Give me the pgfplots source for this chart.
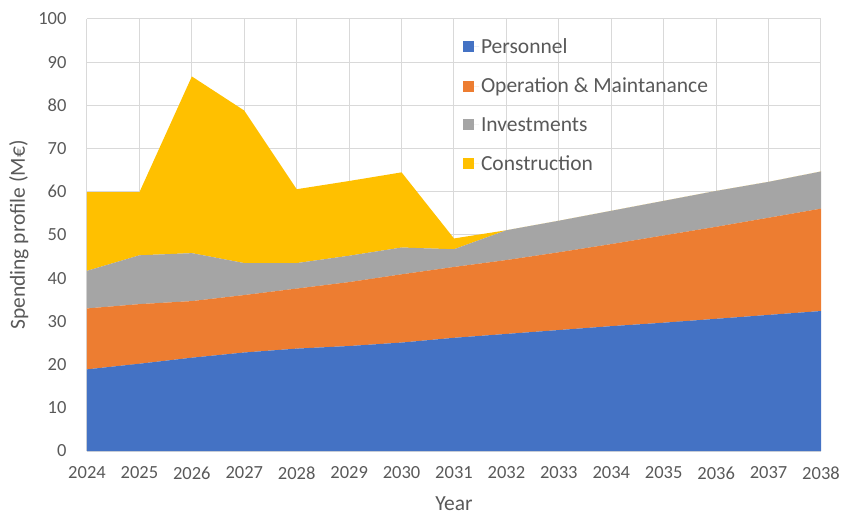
\documentclass[border=0pt]{standalone}
\usepackage{pgfplots}
\pgfplotsset{compat=1.18}
\usepackage{pgfplotstable}
\usepackage{fontspec}
\setmainfont{Carlito}

\definecolor{cPers}{HTML}{4472C4}
\definecolor{cOM}{HTML}{ED7D31}
\definecolor{cInv}{HTML}{A5A5A5}
\definecolor{cCon}{HTML}{FFC000}
\definecolor{txt}{HTML}{595959}
\definecolor{gridc}{HTML}{D9D9D9}

% spending profile (M EUR), one column per category
\pgfplotstableread{
Year Pers OM Inv Con
2024 18.9 14.1 8.7 18.2
2025 20.2 13.8 11.3 14.6
2026 21.6 13.1 11.1 40.9
2027 22.8 13.3 7.4 35.3
2028 23.7 13.9 5.9 17.1
2029 24.3 14.8 6.1 17.3
2030 25.1 15.8 6.2 17.4
2031 26.2 16.4 4.1 2.5
2032 27.1 17.1 6.9 0
2033 28.0 18.0 7.3 0
2034 28.9 19.0 7.7 0
2035 29.7 20.2 8.0 0
2036 30.6 21.3 8.3 0
2037 31.5 22.5 8.3 0
2038 32.4 23.7 8.6 0
}\spend

\begin{document}
\begin{tikzpicture}
\begin{axis}[
    scale only axis,
    width=734pt, height=432pt,
    xmin=2024, xmax=2038,
    ymin=0, ymax=100,
    xtick={2024,2025,...,2038},
    ytick={0,10,...,100},
    stack plots=y,
    grid=major,
    major grid style={gridc, line width=1pt},
    major tick length=0pt,
    axis x line*=bottom, axis y line*=left,
    x axis line style={-, gridc, line width=1pt},
    y axis line style={draw=none},
    /pgf/number format/1000 sep={},
    /pgf/number format/assume math mode=true,
    tick label style={font=\fontsize{18.5}{20}\selectfont, text=txt},
    yticklabel style={xshift=-17pt},
    xticklabel style={yshift=-12pt},
    label style={font=\fontsize{21.5}{24}\selectfont, text=txt},
    xlabel={Year},
    ylabel={Spending profile (M€)},
    xlabel style={yshift=-11pt},
    ylabel shift=3pt,
    legend cell align=left,
    legend style={at={(rel axis cs:0.512,0.96)}, anchor=north west,
        draw=none, fill=none, inner sep=0pt,
        font=\fontsize{21.5}{24}\selectfont, text=txt,
        row sep=19pt},
    legend image code/.code={\fill[#1] (0pt,-5.5pt) rectangle (11pt,5.5pt);
        \path (0pt,0pt) -- (16pt,0pt);},
]
\addplot[draw=none, fill=cPers] table[x=Year, y=Pers] {\spend} \closedcycle;
\addlegendentry{Personnel}
\addplot[draw=none, fill=cOM] table[x=Year, y=OM] {\spend} \closedcycle;
\addlegendentry{Operation \& Maintanance}
\addplot[draw=none, fill=cInv] table[x=Year, y=Inv] {\spend} \closedcycle;
\addlegendentry{Investments}
\addplot[draw=none, fill=cCon] table[x=Year, y=Con] {\spend} \closedcycle;
\addlegendentry{Construction}
\coordinate (sw) at (rel axis cs:0,0);
\coordinate (ne) at (rel axis cs:1,1);
\end{axis}
\path (sw) ++(-87pt,-66pt) coordinate (bbA);
\path (ne) ++(20pt,19pt) coordinate (bbB);
\pgfresetboundingbox
\path (bbA) rectangle (bbB);
\end{tikzpicture}
\end{document}
